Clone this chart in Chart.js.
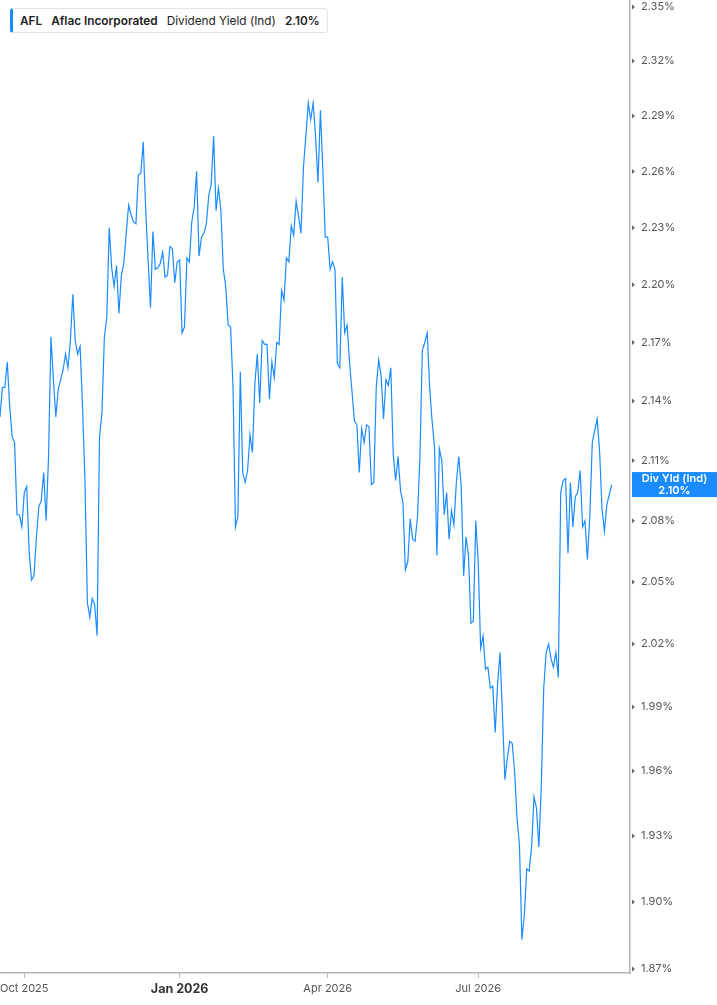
<!DOCTYPE html>
<html>
<head>
<meta charset="utf-8">
<script src="https://cdn.jsdelivr.net/npm/chart.js@4.4.1/dist/chart.umd.min.js"></script>
<style>
  html, body { margin: 0; padding: 0; background: #fff; }
  #wrap { position: relative; width: 717px; height: 1005px; }
  #legend {
    position: absolute; left: 10px; top: 8px; height: 25px;
    box-sizing: border-box; padding: 0 7px 0 7px;
    border: 1px solid #e4e4e4; border-left: 3px solid #1a8cff; border-radius: 3px;
    background: #fff; font-family: Inter, "Noto Sans", sans-serif; font-size: 11.8px;
    color: #222; display: flex; align-items: center; white-space: nowrap;
  }
  #legend span { margin-right: 9px; }
  #legend span:last-child { margin-right: 0; }
  #legend .b { font-weight: 600; }
</style>
</head>
<body>
<div id="wrap">
  <canvas id="afl-div-yield-chart" width="717" height="1005"></canvas>
  <div id="legend">
    <span class="b">AFL</span>
    <span class="b">Aflac Incorporated</span>
    <span>Dividend Yield (Ind)</span>
    <span class="b" id="legend-value"></span>
  </div>
</div>
<script>
// trading calendar: first session and market holidays in the window
const firstSession = '2025-09-17';
const marketHolidays = ['2025-11-27', '2025-12-25', '2026-01-01', '2026-01-19', '2026-02-16',
  '2026-04-03', '2026-05-25', '2026-06-19', '2026-07-03', '2026-09-07'];

// AFL dividend yield (indicated), % - one value per session
const divYield = [
  2.132, 2.147, 2.147, 2.160, 2.137, 2.122, 2.119, 2.083, 2.083, 2.077,
  2.094, 2.097, 2.065, 2.051, 2.053, 2.072, 2.087, 2.090, 2.104, 2.080,
  2.112, 2.173, 2.151, 2.132, 2.146, 2.151, 2.156, 2.164, 2.157, 2.171,
  2.195, 2.171, 2.164, 2.168, 2.137, 2.100, 2.040, 2.033, 2.042, 2.039,
  2.024, 2.122, 2.134, 2.173, 2.183, 2.230, 2.209, 2.199, 2.210, 2.185,
  2.205, 2.211, 2.227, 2.242, 2.237, 2.233, 2.232, 2.258, 2.259, 2.276,
  2.240, 2.213, 2.188, 2.228, 2.208, 2.209, 2.211, 2.217, 2.204, 2.205,
  2.220, 2.219, 2.201, 2.212, 2.213, 2.175, 2.178, 2.214, 2.212, 2.233,
  2.241, 2.260, 2.215, 2.225, 2.227, 2.232, 2.247, 2.253, 2.279, 2.239,
  2.251, 2.239, 2.208, 2.199, 2.179, 2.178, 2.147, 2.077, 2.082, 2.155,
  2.104, 2.099, 2.105, 2.123, 2.114, 2.149, 2.164, 2.139, 2.171, 2.169,
  2.169, 2.141, 2.160, 2.152, 2.170, 2.169, 2.197, 2.192, 2.214, 2.212,
  2.231, 2.226, 2.244, 2.236, 2.227, 2.262, 2.279, 2.297, 2.288, 2.297,
  2.279, 2.254, 2.293, 2.261, 2.225, 2.225, 2.208, 2.212, 2.208, 2.159,
  2.157, 2.204, 2.175, 2.179, 2.160, 2.145, 2.130, 2.128, 2.104, 2.126,
  2.119, 2.128, 2.127, 2.098, 2.099, 2.147, 2.161, 2.153, 2.131, 2.151,
  2.148, 2.157, 2.113, 2.100, 2.112, 2.095, 2.089, 2.056, 2.060, 2.081,
  2.071, 2.070, 2.082, 2.112, 2.166, 2.170, 2.175, 2.147, 2.130, 2.117,
  2.063, 2.116, 2.110, 2.083, 2.094, 2.071, 2.085, 2.078, 2.099, 2.112,
  2.097, 2.053, 2.072, 2.063, 2.030, 2.031, 2.080, 2.060, 2.018, 2.024,
  2.008, 2.009, 1.999, 2.000, 1.978, 2.001, 2.016, 1.986, 1.956, 1.966,
  1.974, 1.973, 1.960, 1.938, 1.926, 1.883, 1.894, 1.915, 1.914, 1.925,
  1.948, 1.943, 1.925, 1.953, 1.999, 2.016, 2.020, 2.013, 2.009, 2.016,
  2.004, 2.094, 2.100, 2.101, 2.064, 2.099, 2.077, 2.092, 2.094, 2.105,
  2.077, 2.080, 2.061, 2.083, 2.119, 2.125, 2.131, 2.115, 2.086, 2.075,
  2.088, 2.093, 2.098
];

const yTicks = [1.87, 1.90, 1.93, 1.96, 1.99, 2.02, 2.05, 2.08, 2.11, 2.14, 2.17, 2.20, 2.23, 2.26, 2.29, 2.32, 2.35];
const xTickMonths = ['2025-10', '2026-01', '2026-04', '2026-07'];
const monthNames = ['Jan', 'Feb', 'Mar', 'Apr', 'May', 'Jun', 'Jul', 'Aug', 'Sep', 'Oct', 'Nov', 'Dec'];

const lineColor = '#1a8cff';
const axisColor = '#b4b4b4';

// build the session dates
const sessions = [];
let d = new Date(firstSession + 'T00:00:00Z');
while (sessions.length < divYield.length) {
  const iso = d.toISOString().slice(0, 10);
  const wd = d.getUTCDay();
  if (wd !== 0 && wd !== 6 && marketHolidays.indexOf(iso) < 0) sessions.push(iso);
  d = new Date(d.getTime() + 86400000);
}

const xTicks = xTickMonths.map(function (m) {
  const idx = sessions.findIndex(function (s) { return s >= m + '-01'; });
  const parts = m.split('-');
  return { value: idx, label: monthNames[+parts[1] - 1] + ' ' + parts[0], yearStart: parts[1] === '01' };
});

const lastValue = divYield[divYield.length - 1];
document.getElementById('legend-value').textContent = lastValue.toFixed(2) + '%';

const axisExtras = {
  id: 'axisExtras',
  afterDraw: function (chart) {
    const ctx = chart.ctx;
    const ys = chart.scales.y;
    const area = chart.chartArea;
    ctx.save();
    ctx.fillStyle = '#666';
    ys.ticks.forEach(function (t) {
      const py = ys.getPixelForValue(t.value);
      ctx.beginPath();
      ctx.moveTo(area.right + 2, py - 2.5);
      ctx.lineTo(area.right + 5, py);
      ctx.lineTo(area.right + 2, py + 2.5);
      ctx.closePath();
      ctx.fill();
    });
    // last value badge
    const py = ys.getPixelForValue(lastValue);
    ctx.fillStyle = lineColor;
    ctx.fillRect(area.right + 2, py - 12.5, 85, 25);
    ctx.fillStyle = '#fff';
    ctx.font = '600 11px Inter, "Noto Sans", sans-serif';
    ctx.textAlign = 'center';
    ctx.textBaseline = 'middle';
    ctx.fillText('Div Yld (Ind)', area.right + 44.5, py - 5.5);
    ctx.fillText(lastValue.toFixed(2) + '%', area.right + 44.5, py + 6);
    ctx.restore();
  }
};

const canvas = document.getElementById('afl-div-yield-chart');
new Chart(canvas, {
  type: 'line',
  data: {
    datasets: [{
      label: 'Dividend Yield (Ind)',
      data: divYield.map(function (v, i) { return { x: i, y: v }; }),
      borderColor: lineColor,
      borderWidth: 1.2,
      pointRadius: 0,
      tension: 0,
      fill: false
    }]
  },
  options: {
    responsive: false,
    animation: false,
    layout: { padding: 0 },
    plugins: { legend: { display: false }, tooltip: { enabled: false } },
    scales: {
      x: {
        type: 'linear',
        min: 0,
        max: (divYield.length - 1) * 630 / 611.7,
        afterBuildTicks: function (scale) {
          scale.ticks = xTicks.map(function (t) { return { value: t.value }; });
        },
        afterFit: function (scale) {
          scale.height = 32;
          scale.paddingLeft = 0;
          scale.paddingRight = 0;
        },
        grid: { display: true, drawOnChartArea: false, drawTicks: true, tickLength: 5, color: axisColor },
        border: { display: true, color: axisColor, width: 1.5 },
        ticks: {
          autoSkip: false,
          maxRotation: 0,
          padding: 4,
          color: function (c) {
            const t = xTicks.find(function (k) { return c.tick && k.value === c.tick.value; });
            return t && t.yearStart ? '#333' : '#555';
          },
          font: function (c) {
            const t = xTicks.find(function (k) { return c.tick && k.value === c.tick.value; });
            return t && t.yearStart
              ? { family: 'Inter, "Noto Sans", sans-serif', size: 12.5, weight: '700' }
              : { family: 'Inter, "Noto Sans", sans-serif', size: 11 };
          },
          callback: function (v) {
            const t = xTicks.find(function (k) { return k.value === v; });
            return t ? t.label : '';
          }
        }
      },
      y: {
        type: 'logarithmic',
        position: 'right',
        min: 1.8682,
        max: 2.3539,
        afterBuildTicks: function (scale) {
          scale.ticks = yTicks.map(function (v) { return { value: v }; });
        },
        afterFit: function (scale) {
          scale.width = 87;
          scale.paddingTop = 0;
          scale.paddingBottom = 0;
        },
        grid: { display: false },
        border: { display: true, color: axisColor, width: 1.5 },
        ticks: {
          padding: 3,
          color: '#555',
          font: { family: 'Inter, "Noto Sans", sans-serif', size: 11 },
          callback: function (v) { return Number(v).toFixed(2) + '%'; }
        }
      }
    }
  },
  plugins: [axisExtras]
});
</script>
</body>
</html>
